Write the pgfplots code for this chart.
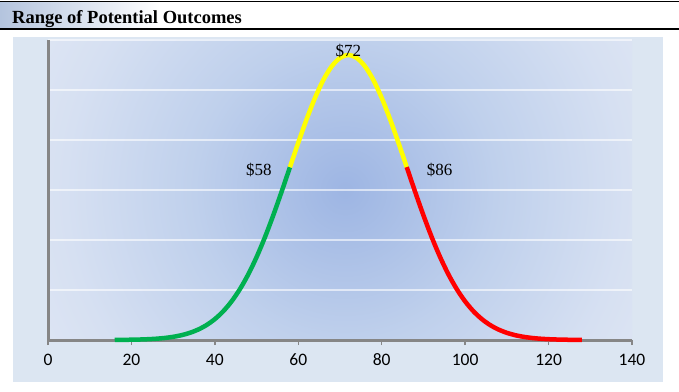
\documentclass[border=0pt]{standalone}
\usepackage{pgfplots}
\pgfplotsset{compat=1.18}
\usepackage{fontspec}
\setmainfont{Liberation Serif}
\newfontfamily\carlito{Carlito}
\definecolor{panelbg}{HTML}{DCE6F2}
\definecolor{bgA}{HTML}{9DB5E3}
\definecolor{bgB}{HTML}{BFD0EC}
\definecolor{bgC}{HTML}{D6E0F2}
\definecolor{bgD}{HTML}{DCE4F3}
\definecolor{titleblue}{HTML}{B4C4DE}
\definecolor{axgray}{HTML}{868686}
\definecolor{cgreen}{HTML}{00B050}
\definecolor{cyellow}{HTML}{FFFF00}
\definecolor{cred}{HTML}{FF0000}
\pgfdeclareradialshading{bgrad}{\pgfpoint{0bp}{0bp}}{color(0bp)=(bgA); color(11.4bp)=(bgB); color(21.2bp)=(bgC); color(25bp)=(bgD); color(50bp)=(bgD)}
\begin{document}
\begin{tikzpicture}[x=1pt,y=1pt]
\path[use as bounding box] (0,0) rectangle (679,391);
\fill[white] (0,0) rectangle (679,391);
\shade[left color=titleblue,right color=white] (0,362) rectangle (160,389);
\draw[line width=0.8pt] (0,389.5) -- (679,389.5);
\draw[line width=1.2pt] (0,362) -- (679,362);
\node[anchor=base west,inner sep=0pt,font=\bfseries\fontsize{18.5}{22}\selectfont] at (12,367.5) {Range of Potential Outcomes};
\fill[panelbg] (13,9) rectangle (663,354);
\begin{scope}
\clip (48,51) rectangle (632,351);
\shade[shading=bgrad] (345,201) circle (330);
\end{scope}
\begin{axis}[
  at={(48pt,51pt)}, anchor=south west,
  scale only axis, width=584pt, height=300pt,
  xmin=0, xmax=140, ymin=0, ymax=0.03,
  clip=false,
  scaled y ticks=false,
  axis lines=left,
  axis line style={-, draw=axgray, line width=3pt},
  xtick={0,20,...,140},
  ytick={0.005,0.01,0.015,0.02,0.025,0.03},
  yticklabels={},
  ytick style={draw=none},
  xtick style={draw=axgray, line width=1.5pt},
  major tick length=5pt,
  xtick align=outside,
  ymajorgrids,
  major grid style={draw=white, opacity=0.6, line width=1.5pt},
  /pgf/number format/assume math mode=true,
  xticklabel style={font=\carlito\fontsize{17.5}{20}\selectfont, text=black, anchor=base, yshift=-20pt},
]
\addplot[cgreen, line width=4.5pt, smooth] coordinates {
(16,0.0000096)(18,0.0000167)(20,0.0000288)(22,0.0000484)(24,0.0000798)(26,0.000129)(28,0.000204)(30,0.000317)(32,0.000481)(34,0.000716)(36,0.001045)(38,0.001493)(40,0.002091)(42,0.002869)(44,0.003857)(46,0.005081)(48,0.006556)(50,0.008290)(52,0.010272)(54,0.012470)(56,0.014831)(58,0.017285)};
\addplot[cyellow, line width=4.5pt, smooth] coordinates {
(58,0.017285)(60,0.019737)(62,0.022079)(64,0.024204)(66,0.025997)(68,0.027357)(70,0.028208)(72,0.028497)(74,0.028208)(76,0.027357)(78,0.025997)(80,0.024204)(82,0.022079)(84,0.019737)(86,0.017285)};
\addplot[cred, line width=4.5pt, smooth] coordinates {
(86,0.017285)(88,0.014831)(90,0.012470)(92,0.010272)(94,0.008290)(96,0.006556)(98,0.005081)(100,0.003857)(102,0.002869)(104,0.002091)(106,0.001493)(108,0.001045)(110,0.000716)(112,0.000481)(114,0.000317)(116,0.000204)(118,0.000129)(120,0.0000798)(122,0.0000484)(124,0.0000288)(126,0.0000167)(128,0.0000096)};
\node[font=\fontsize{17}{20}\selectfont, inner sep=0pt] at (axis cs:72,0.0285) [yshift=4pt] {\$72};
\node[font=\fontsize{17}{20}\selectfont, inner sep=0pt, anchor=east] at (axis cs:58,0.017285) [xshift=-18pt,yshift=-3pt] {\$58};
\node[font=\fontsize{17}{20}\selectfont, inner sep=0pt, anchor=west] at (axis cs:86,0.017285) [xshift=20pt,yshift=-3pt] {\$86};
\end{axis}
\end{tikzpicture}
\end{document}
